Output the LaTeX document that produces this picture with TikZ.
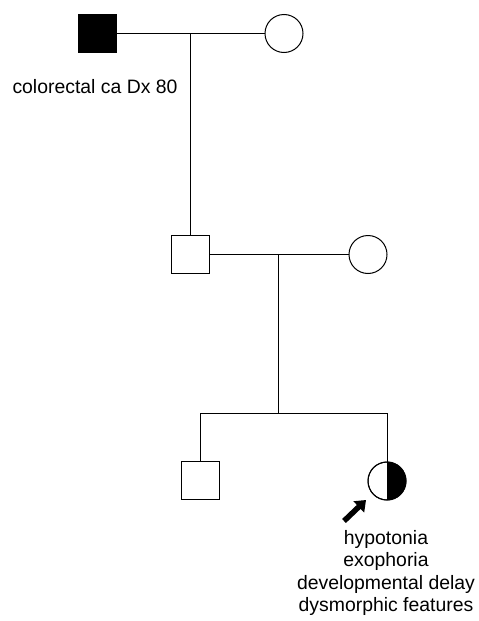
\documentclass[tikz,border=0pt]{standalone}
\usepackage{fontspec}
\setmainfont{Liberation Sans}
\usetikzlibrary{arrows.meta}
\begin{document}
\begin{tikzpicture}[x=1pt,y=-1pt, line width=1pt,
  male/.style={draw, minimum size=38pt, inner sep=0pt, outer sep=0pt},
  female/.style={draw, circle, minimum size=38pt, inner sep=0pt, outer sep=0pt},
  lbl/.style={font=\fontsize{19.4}{22.5}\selectfont, inner sep=0pt, anchor=base},
  proband/.style={line width=5.5pt, -{Triangle[length=10pt,width=15pt]}}]
\useasboundingbox (0,0) rectangle (479,621);
% generation I
\node[male, fill=black] (g1m) at (97,33.5) {};
\node[female] (g1f) at (284,33.5) {};
\coordinate (j1) at (190,33.5);
% generation II
\node[male] (g2m) at (190,254.5) {};
\node[female] (g2f) at (368,254.5) {};
\coordinate (j2) at (278,254.5);
\coordinate (s2) at (278,413);
\coordinate (s2l) at (200,413);
\coordinate (s2r) at (387,413);
% generation III
\node[male] (g3m) at (200,480.5) {};
\node[female] (g3f) at (387,481) {};
\fill (g3f.north) arc (90:-90:19pt) -- cycle;
\node[female] at (387,481) {};
% connectors
\draw (g1m.east) -- (g1f.west);
\draw (j1) -- (g2m.north);
\draw (g2m.east) -- (g2f.west);
\draw (j2) -- (s2);
\draw (s2l) -- (s2r);
\draw (s2l) -- (g3m.north);
\draw (s2r) -- (g3f.north);
% proband arrow
\coordinate (atail) at (344,521);
\coordinate (ahead) at (366,500);
\draw[proband] (atail) -- (ahead);
% labels
\node[lbl] (t0) at (95,93) {colorectal ca Dx 80};
\node[lbl] (t1) at (386,544) {hypotonia};
\node[lbl] (t2) at (386,566.5) {exophoria};
\node[lbl] (t3) at (386,589) {developmental delay};
\node[lbl] (t4) at (386,611) {dysmorphic features};
\end{tikzpicture}
\end{document}
